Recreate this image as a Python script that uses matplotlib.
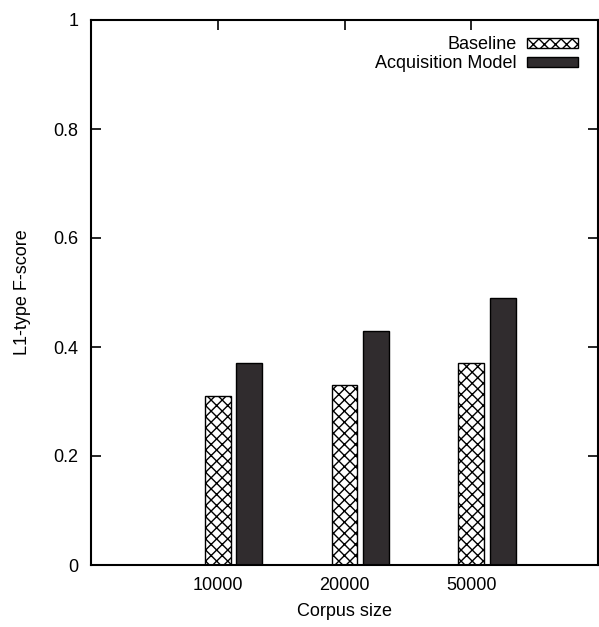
import matplotlib
matplotlib.use("Agg")
import matplotlib.pyplot as plt
import numpy as np

plt.rcParams['font.family'] = ['Liberation Sans', 'DejaVu Sans']
plt.rcParams['hatch.linewidth'] = 1.0

categories = ["10000", "20000", "50000"]
baseline = [0.31, 0.33, 0.37]
acquisition = [0.37, 0.43, 0.49]
yticks = [0, 0.2, 0.4, 0.6, 0.8, 1]
ytick_labels = ["0", "0.2", "0.4", "0.6", "0.8", "1"]

fig = plt.figure(figsize=(5.99, 6.27), dpi=100)
ax = fig.add_axes([91/599, 62/627, (598-91)/599, (565-20)/627])
ax.set_axisbelow(True)

x = np.arange(len(categories))
w = 0.205
off = 0.25
ax.bar(x, baseline, width=w, color='white', edgecolor='black', hatch='xxx',
       linewidth=1.0, label='Baseline', zorder=3)
ax.bar(x + off, acquisition, width=w, color='#302c2e', edgecolor='black',
       linewidth=1.0, label='Acquisition Model', zorder=3)

ax.set_xlim(-1, 3)
ax.set_ylim(0, 1)
ax.set_xticks(x)
ax.set_xticklabels(categories)
ax.set_yticks(yticks)
ax.set_yticklabels(ytick_labels)
ax.tick_params(axis='both', direction='in', length=7, width=1.2, labelsize=13,
               top=True, right=True)
ax.tick_params(axis='x', pad=9)
ax.tick_params(axis='y', pad=9)
for s in ax.spines.values():
    s.set_linewidth(1.5)
    s.set_zorder(4)

ax.set_xlabel("Corpus size", fontsize=13, labelpad=6)
ax.set_ylabel("L1-type F-score", fontsize=13, labelpad=16)

leg = ax.legend(loc='upper right', bbox_to_anchor=(0.982, 0.99), frameon=False,
                markerfirst=False, fontsize=13, handlelength=2.8,
                handleheight=0.45, handletextpad=0.6, labelspacing=0.1,
                borderaxespad=0.2)

fig.savefig("out.png", dpi=100)
